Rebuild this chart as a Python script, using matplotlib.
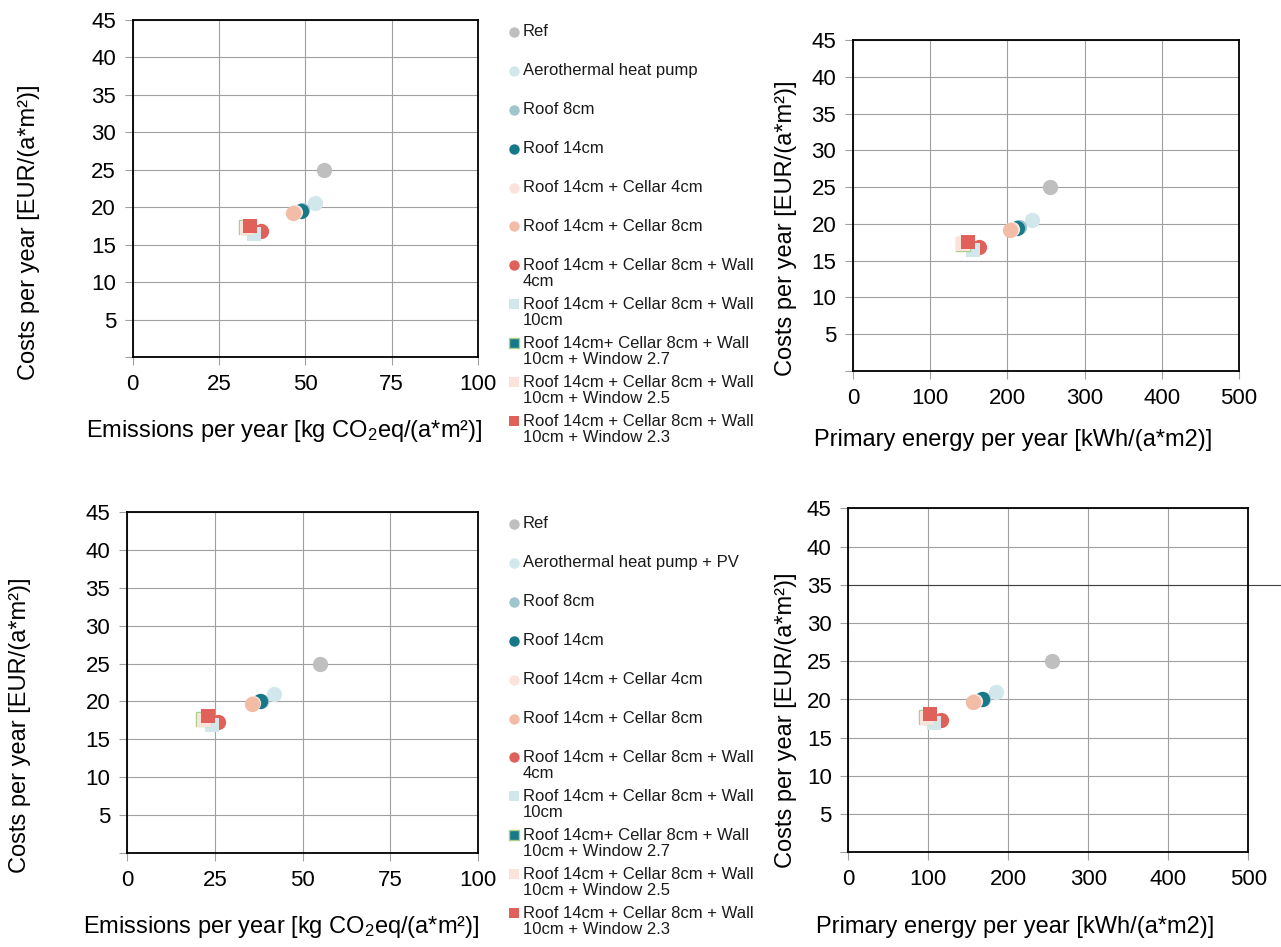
import matplotlib
matplotlib.use("Agg")
import matplotlib.pyplot as plt
from matplotlib.lines import Line2D

plt.rcParams['font.family'] = ['Liberation Sans', 'DejaVu Sans']
plt.rcParams['mathtext.fontset'] = 'custom'
plt.rcParams['mathtext.rm'] = 'Liberation Sans'
plt.rcParams['mathtext.it'] = 'Liberation Sans'

# Series (scenario) names, one entry per legend row
names_top = ["Ref", "Aerothermal heat pump", "Roof 8cm", "Roof 14cm",
             "Roof 14cm + Cellar 4cm", "Roof 14cm + Cellar 8cm",
             "Roof 14cm + Cellar 8cm + Wall\n4cm",
             "Roof 14cm + Cellar 8cm + Wall\n10cm",
             "Roof 14cm+ Cellar 8cm + Wall\n10cm + Window 2.7",
             "Roof 14cm + Cellar 8cm + Wall\n10cm + Window 2.5",
             "Roof 14cm + Cellar 8cm + Wall\n10cm + Window 2.3"]
names_bottom = ["Ref", "Aerothermal heat pump + PV"] + names_top[2:]

colors = ["#BFBFBF", "#D2E7EB", "#9FC5CD", "#17788A", "#FBE3DB", "#F2BCA7",
          "#E0605A", "#D2E7EB", "#17788A", "#FBE3DB", "#E0605A"]
markers = ["o", "o", "o", "o", "o", "o", "o", "s", "s", "s", "s"]
edges = [None] * 8 + ["#A9D18E", None, None]

# Top row: heat pump scenarios
emis_top = [55.4, 52.8, 49.0, 48.6, 47.0, 46.5, 37.2, 35.1, 32.9, 33.0, 34.0]
pe_top = [255, 232, 215, 213, 206, 204, 163, 155, 142, 143, 149]
cost_top = [25.0, 20.5, 19.6, 19.5, 19.3, 19.2, 16.8, 16.4, 17.3, 17.2, 17.5]

# Bottom row: heat pump + PV scenarios
emis_bot = [55.0, 41.9, 38.3, 37.9, 36.0, 35.5, 26.0, 24.1, 21.7, 21.9, 23.0]
pe_bot = [254, 184, 168, 167, 158, 156, 116, 107, 97, 98, 102]
cost_bot = [25.0, 21.0, 20.1, 20.0, 19.8, 19.7, 17.3, 16.9, 17.7, 17.6, 18.1]

W, H = 1281, 947
fig = plt.figure(figsize=(W / 100, H / 100), dpi=100)

ylab = "Costs per year [EUR/(a*m²)]"
xlab_em = "Emissions per year [kg CO$_2$eq/(a*m²)]"
xlab_pe = "Primary energy per year [kWh/(a*m2)]"


def panel(rect, xs, ys, xmax, xstep, xlabel, ypos, xpos):
    ax = fig.add_axes(rect)
    for x, y, c, m, e in zip(xs, ys, colors, markers, edges):
        ms = 11 if m == "o" else 10
        ax.plot([x], [y], linestyle="none", marker=m, ms=ms, color=c,
                mec=e if e else c, mew=1 if e else 0)
    ax.set_xlim(0, xmax)
    ax.set_ylim(0, 45)
    ax.set_xticks(range(0, xmax + 1, xstep))
    ax.set_yticks(range(0, 46, 5))
    ax.set_yticklabels([""] + [str(v) for v in range(5, 46, 5)])
    ax.grid(True, color="#A0A0A0", lw=0.8)
    ax.set_axisbelow(True)
    for s in ax.spines.values():
        s.set_color("#000000")
        s.set_linewidth(1.3)
    ax.tick_params(direction="out", length=6, width=0.8, color="#A0A0A0",
                   labelsize=16, pad=6)
    ax.set_ylabel(ylab, fontsize=17)
    ax.set_xlabel(xlabel, fontsize=17)
    ax.yaxis.set_label_coords(*ypos)
    ax.xaxis.set_label_coords(*xpos)
    return ax


panel([132.7 / W, 1 - 357 / H, 345.3 / W, 337 / H], emis_top, cost_top,
      100, 25, xlab_em, (-0.268, 0.371), (0.438, -0.181))
panel([853 / W, 1 - 371 / H, 386 / W, 331 / H], pe_top, cost_top,
      500, 100, xlab_pe, (-0.145, 0.432), (0.415, -0.175))
panel([127 / W, 1 - 853 / H, 351 / W, 341 / H], emis_bot, cost_bot,
      100, 25, xlab_em, (-0.274, 0.375), (0.439, -0.179))
ax4 = panel([848.3 / W, 1 - 852.3 / H, 400 / W, 343.8 / H], pe_bot, cost_bot,
            500, 100, xlab_pe, (-0.129, 0.385), (0.417, -0.185))
ax4.axhline(35, xmin=0, xmax=1.1, color="#404040", lw=0.8, clip_on=False)


def legend(names, y0):
    pitch = 38.9
    for i, (n, c, m, e) in enumerate(zip(names, colors, markers, edges)):
        y = y0 + i * pitch
        fig.add_artist(Line2D([514 / W], [1 - y / H], transform=fig.transFigure,
                              marker=m, ms=7.5 if m == "o" else 7,
                              color=c, mec=e if e else c, mew=1 if e else 0))
        for j, line in enumerate(n.split("\n")):
            fig.text(523 / W, 1 - (y + j * 16.5) / H, line, fontsize=12,
                     va="center", ha="left", color="#1A1A1A")


legend(names_top, 32)
legend(names_bottom, 524)

fig.savefig("out.png", dpi=100)
